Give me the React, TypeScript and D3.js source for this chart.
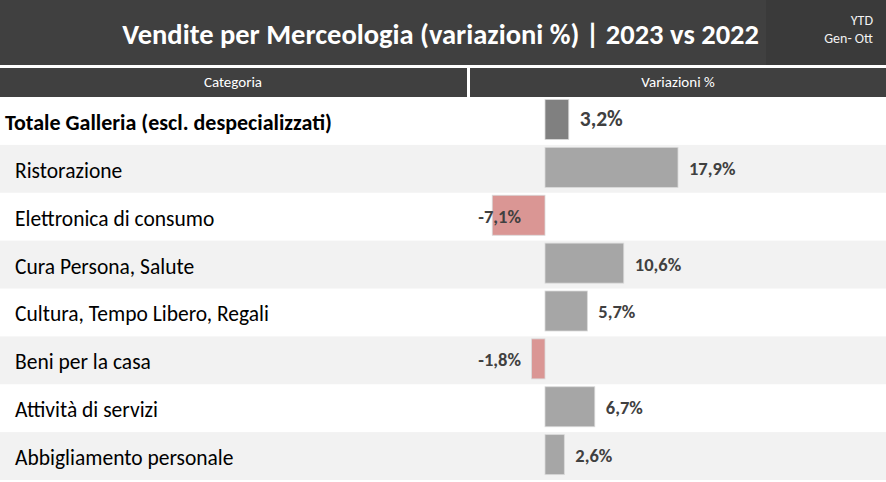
import React from "react";
import * as d3 from "d3";

const categories = [
  "Totale Galleria (escl. despecializzati)",
  "Ristorazione",
  "Elettronica di consumo",
  "Cura Persona, Salute",
  "Cultura, Tempo Libero, Regali",
  "Beni per la casa",
  "Attività di servizi",
  "Abbigliamento personale",
];
const values = [3.2, 17.9, -7.1, 10.6, 5.7, -1.8, 6.7, 2.6];
const title = "Vendite per Merceologia (variazioni %) | 2023 vs 2022";
const period = ["YTD", "Gen- Ott"];
const headers = ["Categoria", "Variazioni %"];

const W = 886;
const H = 482;
const FONT = "Carlito, Calibri, Lato, 'Open Sans', sans-serif";

export default function App() {
  const x = d3.scaleLinear().domain([-10, 20]).range([470.7, 693.6]);
  const y = d3
    .scaleBand<number>()
    .domain(d3.range(categories.length))
    .range([97, 480])
    .paddingInner(0)
    .paddingOuter(0);
  const rowH = y.bandwidth();
  const fmt = (v: number) =>
    d3.format(".1f")(v).replace(".", ",").replace("\u2212", "-") + "%";

  return (
    <div style={{ position: "fixed", left: 0, top: 0, width: W, height: H }}>
      <svg width={W} height={H} style={{ display: "block", fontFamily: FONT }}>
        <rect x={0} y={0} width={W} height={H} fill="#ffffff" />
        {/* title bar */}
        <rect x={0} y={0} width={W} height={65} fill="#404040" />
        <rect x={766} y={0} width={W - 766} height={65} fill="#3a3a3a" />
        <text x={759} y={44} textAnchor="end" fill="#ffffff" fontSize={28.5} fontWeight="bold">
          {title}
        </text>
        <text x={873} y={25} textAnchor="end" fill="#f2f2f2" fontSize={14}>
          {period[0]}
        </text>
        <text x={873} y={43} textAnchor="end" fill="#f2f2f2" fontSize={14}>
          {period[1]}
        </text>
        {/* header */}
        <rect x={0} y={68} width={467} height={29} fill="#404040" />
        <rect x={470} y={68} width={W - 470} height={29} fill="#404040" />
        <text x={233} y={87} textAnchor="middle" fill="#ffffff" fontSize={15}>
          {headers[0]}
        </text>
        <text x={678} y={87} textAnchor="middle" fill="#ffffff" fontSize={15}>
          {headers[1]}
        </text>
        {/* rows */}
        {categories.map((c, i) => {
          const top = y(i)!;
          const v = values[i];
          const isTotal = i === 0;
          const x0 = x(0);
          const xv = x(v);
          const fill = v < 0 ? "#da9694" : isTotal ? "#808080" : "#a6a6a6";
          return (
            <g key={c}>
              {i % 2 === 1 && (
                <rect x={0} y={top} width={W} height={rowH} fill="#f2f2f2" />
              )}
              <text
                x={isTotal ? 5 : 15}
                y={top + rowH / 2 + 9}
                fontSize={isTotal ? 22 : 21.5}
                fontWeight={isTotal ? "bold" : "normal"}
                fill="#000000"
              >
                {c}
              </text>
              <rect
                x={Math.min(x0, xv)}
                y={top + 2.5}
                width={Math.abs(xv - x0)}
                height={40}
                fill={fill}
                stroke="#d9d9d9"
                strokeWidth={0.8}
              />
              <text
                x={v >= 0 ? xv + 11 : x0 - 24}
                y={top + rowH / 2 + (isTotal ? 5 : 6)}
                textAnchor={v >= 0 ? "start" : "end"}
                fontSize={isTotal ? 21.5 : 18.5}
                fontWeight="bold"
                fill="#404040"
              >
                {fmt(v)}
              </text>
            </g>
          );
        })}
      </svg>
    </div>
  );
}
